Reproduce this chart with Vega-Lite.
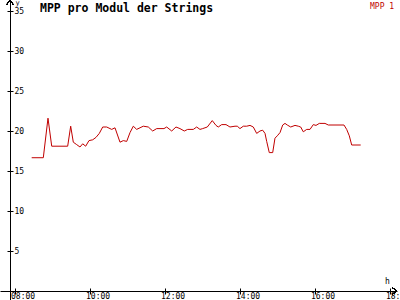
{
  "$schema": "https://vega.github.io/schema/vega-lite/v6.json",
  "width": 397,
  "height": 300,
  "autosize": {"type": "none"},
  "padding": {"left": 0, "top": 0, "right": 3, "bottom": 0},
  "background": "white",
  "title": {
    "text": "MPP pro Modul der Strings",
    "anchor": "start",
    "orient": "top",
    "font": "DejaVu Sans Mono",
    "fontSize": 11.5,
    "fontWeight": "bold",
    "color": "black",
    "baseline": "top",
    "offset": 0,
    "dx": 40,
    "dy": 16.5,
    "frame": "group"
  },
  "config": {
    "view": {"stroke": null},
    "axis": {
      "labelFont": "DejaVu Sans Mono",
      "labelFontSize": 8,
      "labelColor": "black",
      "titleFont": "DejaVu Sans Mono",
      "titleFontSize": 8,
      "titleFontWeight": "normal",
      "titleColor": "black",
      "domainColor": "black",
      "tickColor": "black",
      "grid": false
    }
  },
  "data": {
    "values": [
      {"t": 8.445, "v": 16.66, "s": "MPP 1"},
      {"t": 8.755, "v": 16.66, "s": "MPP 1"},
      {"t": 8.88, "v": 21.6, "s": "MPP 1"},
      {"t": 8.979, "v": 18.1, "s": "MPP 1"},
      {"t": 9.405, "v": 18.1, "s": "MPP 1"},
      {"t": 9.485, "v": 20.6, "s": "MPP 1"},
      {"t": 9.555, "v": 18.6, "s": "MPP 1"},
      {"t": 9.645, "v": 18.3, "s": "MPP 1"},
      {"t": 9.733, "v": 18.0, "s": "MPP 1"},
      {"t": 9.805, "v": 18.4, "s": "MPP 1"},
      {"t": 9.885, "v": 18.1, "s": "MPP 1"},
      {"t": 9.973, "v": 18.8, "s": "MPP 1"},
      {"t": 10.072, "v": 18.9, "s": "MPP 1"},
      {"t": 10.16, "v": 19.2, "s": "MPP 1"},
      {"t": 10.248, "v": 19.7, "s": "MPP 1"},
      {"t": 10.339, "v": 20.5, "s": "MPP 1"},
      {"t": 10.445, "v": 20.5, "s": "MPP 1"},
      {"t": 10.579, "v": 20.2, "s": "MPP 1"},
      {"t": 10.667, "v": 20.4, "s": "MPP 1"},
      {"t": 10.8, "v": 18.6, "s": "MPP 1"},
      {"t": 10.888, "v": 18.8, "s": "MPP 1"},
      {"t": 10.979, "v": 18.7, "s": "MPP 1"},
      {"t": 11.067, "v": 19.8, "s": "MPP 1"},
      {"t": 11.155, "v": 20.6, "s": "MPP 1"},
      {"t": 11.245, "v": 20.2, "s": "MPP 1"},
      {"t": 11.421, "v": 20.6, "s": "MPP 1"},
      {"t": 11.555, "v": 20.5, "s": "MPP 1"},
      {"t": 11.672, "v": 20.0, "s": "MPP 1"},
      {"t": 11.779, "v": 20.3, "s": "MPP 1"},
      {"t": 11.973, "v": 20.3, "s": "MPP 1"},
      {"t": 12.045, "v": 20.5, "s": "MPP 1"},
      {"t": 12.179, "v": 20.0, "s": "MPP 1"},
      {"t": 12.293, "v": 20.5, "s": "MPP 1"},
      {"t": 12.4, "v": 20.3, "s": "MPP 1"},
      {"t": 12.515, "v": 20.0, "s": "MPP 1"},
      {"t": 12.605, "v": 20.2, "s": "MPP 1"},
      {"t": 12.755, "v": 20.2, "s": "MPP 1"},
      {"t": 12.845, "v": 20.5, "s": "MPP 1"},
      {"t": 12.933, "v": 20.2, "s": "MPP 1"},
      {"t": 13.005, "v": 20.3, "s": "MPP 1"},
      {"t": 13.128, "v": 20.5, "s": "MPP 1"},
      {"t": 13.261, "v": 21.3, "s": "MPP 1"},
      {"t": 13.36, "v": 20.7, "s": "MPP 1"},
      {"t": 13.421, "v": 20.5, "s": "MPP 1"},
      {"t": 13.512, "v": 20.8, "s": "MPP 1"},
      {"t": 13.627, "v": 20.8, "s": "MPP 1"},
      {"t": 13.733, "v": 20.5, "s": "MPP 1"},
      {"t": 13.867, "v": 20.6, "s": "MPP 1"},
      {"t": 13.928, "v": 20.6, "s": "MPP 1"},
      {"t": 14.0, "v": 20.3, "s": "MPP 1"},
      {"t": 14.088, "v": 20.6, "s": "MPP 1"},
      {"t": 14.179, "v": 20.6, "s": "MPP 1"},
      {"t": 14.267, "v": 20.7, "s": "MPP 1"},
      {"t": 14.355, "v": 20.5, "s": "MPP 1"},
      {"t": 14.445, "v": 19.7, "s": "MPP 1"},
      {"t": 14.533, "v": 20.0, "s": "MPP 1"},
      {"t": 14.605, "v": 20.1, "s": "MPP 1"},
      {"t": 14.667, "v": 19.7, "s": "MPP 1"},
      {"t": 14.712, "v": 18.7, "s": "MPP 1"},
      {"t": 14.781, "v": 17.3, "s": "MPP 1"},
      {"t": 14.872, "v": 17.3, "s": "MPP 1"},
      {"t": 14.933, "v": 19.1, "s": "MPP 1"},
      {"t": 14.995, "v": 19.4, "s": "MPP 1"},
      {"t": 15.067, "v": 19.8, "s": "MPP 1"},
      {"t": 15.139, "v": 20.75, "s": "MPP 1"},
      {"t": 15.2, "v": 20.95, "s": "MPP 1"},
      {"t": 15.261, "v": 20.75, "s": "MPP 1"},
      {"t": 15.352, "v": 20.5, "s": "MPP 1"},
      {"t": 15.467, "v": 20.7, "s": "MPP 1"},
      {"t": 15.555, "v": 20.6, "s": "MPP 1"},
      {"t": 15.619, "v": 20.5, "s": "MPP 1"},
      {"t": 15.688, "v": 19.9, "s": "MPP 1"},
      {"t": 15.779, "v": 20.2, "s": "MPP 1"},
      {"t": 15.867, "v": 20.2, "s": "MPP 1"},
      {"t": 15.955, "v": 20.8, "s": "MPP 1"},
      {"t": 16.027, "v": 20.7, "s": "MPP 1"},
      {"t": 16.115, "v": 20.95, "s": "MPP 1"},
      {"t": 16.267, "v": 20.95, "s": "MPP 1"},
      {"t": 16.355, "v": 20.75, "s": "MPP 1"},
      {"t": 16.773, "v": 20.75, "s": "MPP 1"},
      {"t": 16.845, "v": 20.2, "s": "MPP 1"},
      {"t": 16.915, "v": 19.4, "s": "MPP 1"},
      {"t": 16.979, "v": 18.25, "s": "MPP 1"},
      {"t": 17.219, "v": 18.25, "s": "MPP 1"}
    ]
  },
  "layer": [
    {
      "mark": {"type": "line", "strokeWidth": 1, "interpolate": "linear"},
      "encoding": {
        "x": {
          "field": "t",
          "type": "quantitative",
          "scale": {"domain": [7.6, 18.187], "nice": false, "zero": false},
          "axis": {
            "orient": "bottom",
            "offset": -9,
            "values": [8, 10, 12, 14, 16, 18],
            "labelExpr": "(datum.value < 10 ? '0' : '') + datum.value + ':00'",
            "tickSize": 3,
            "labelAlign": "left",
            "labelBaseline": "alphabetic",
            "labelPadding": 4.5,
            "labelOffset": -4.5,
            "labelFlush": false,
            "labelOverlap": false,
            "title": "h",
            "titleX": 387,
            "titleY": -8,
            "titleBaseline": "alphabetic",
            "titleAlign": "center"
          }
        },
        "y": {
          "field": "v",
          "type": "quantitative",
          "scale": {"domain": [-1.125, 36.375], "nice": false, "zero": false},
          "axis": {
            "orient": "left",
            "offset": -10,
            "values": [5, 10, 15, 20, 25, 30, 35],
            "tickSize": 3,
            "labelAlign": "left",
            "labelBaseline": "middle",
            "labelPadding": -7,
            "labelFlush": false,
            "labelOverlap": false,
            "title": "y",
            "titleFontSize": 7,
            "titleAngle": 0,
            "titleX": 5,
            "titleY": 4,
            "titleAlign": "left",
            "titleBaseline": "alphabetic"
          }
        },
        "color": {
          "field": "s",
          "type": "nominal",
          "scale": {"range": ["#c00000"]},
          "legend": {
            "title": null,
            "orient": "none",
            "legendX": 362,
            "legendY": 3,
            "symbolSize": 0,
            "symbolOpacity": 0,
            "symbolStrokeWidth": 0,
            "labelOffset": 0,
            "labelFont": "DejaVu Sans Mono",
            "labelFontSize": 8,
            "labelColor": "#c00000",
            "padding": 0
          }
        }
      }
    },
    {
      "mark": {"type": "line", "opacity": 0},
      "encoding": {
        "x": {
          "field": "t",
          "type": "quantitative",
          "axis": {"orient": "bottom", "offset": -9, "values": [8, 10, 12, 14, 16, 18], "tickSize": -3, "labels": false, "domain": false, "title": null}
        },
        "y": {
          "field": "v",
          "type": "quantitative",
          "axis": {"orient": "left", "offset": -10, "values": [5, 10, 15, 20, 25, 30, 35], "tickSize": -3, "labels": false, "domain": false, "title": null}
        }
      }
    },
    {
      "mark": {"type": "point", "shape": "M -1.4 -1 L 0 0 L -1.4 1", "filled": false, "stroke": "black", "strokeWidth": 1, "size": 49, "opacity": 1},
      "encoding": {
        "x": {"datum": 18.187, "type": "quantitative", "axis": null},
        "y": {"datum": 0, "type": "quantitative", "axis": null}
      }
    },
    {
      "mark": {"type": "point", "shape": "M -1 1.4 L 0 0 L 1 1.4", "filled": false, "stroke": "black", "strokeWidth": 1, "size": 49, "opacity": 1},
      "encoding": {
        "x": {"datum": 7.867, "type": "quantitative", "axis": null},
        "y": {"datum": 36.375, "type": "quantitative", "axis": null}
      }
    }
  ],
  "resolve": {"axis": {"x": "independent", "y": "independent"}}
}
